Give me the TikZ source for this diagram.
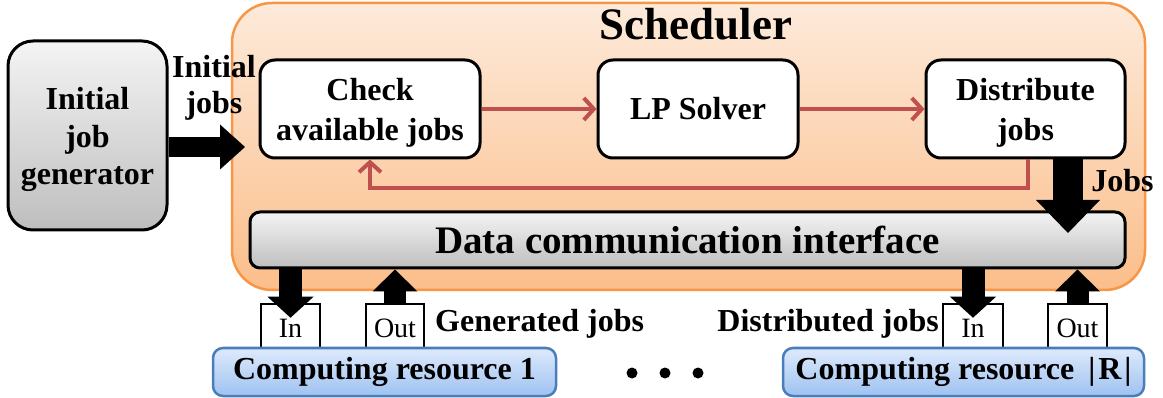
\documentclass[tikz,border=0pt]{standalone}
\usepackage{fontspec}
\setmainfont{Liberation Serif}
\usetikzlibrary{arrows.meta}
\definecolor{schedBorder}{RGB}{247,150,70}
\definecolor{schedTop}{RGB}{253,234,218}
\definecolor{schedBot}{RGB}{251,190,138}
\definecolor{grayTop}{RGB}{244,244,244}
\definecolor{grayBot}{RGB}{190,190,190}
\definecolor{blueTop}{RGB}{222,234,252}
\definecolor{blueBot}{RGB}{158,194,240}
\definecolor{blueBorder}{RGB}{74,126,187}
\definecolor{redLine}{RGB}{192,80,77}
\begin{document}
\begin{tikzpicture}[x=1pt,y=-1pt,
  bigfont/.style={font=\fontsize{32}{40}\selectfont\bfseries},
  whitebox/.style={draw=black, line width=3pt, rounded corners=15pt, fill=white,
    align=center, bigfont, inner sep=0pt},
  graybox/.style={draw=black, line width=3pt, top color=grayTop, bottom color=grayBot,
    align=center, bigfont, inner sep=0pt},
  portbox/.style={draw=black, line width=2.5pt, fill=white, inner sep=0pt,
    font=\fontsize{28}{32}\selectfont},
  resbox/.style={draw=blueBorder, line width=2.5pt, rounded corners=10pt,
    top color=blueTop, bottom color=blueBot, bigfont, inner sep=0pt},
  redarrow/.style={draw=redLine, line width=4pt, -{Straight Barb[length=10pt,width=22pt]}},
  fat/.style n args={3}{draw=black, line width=#1,
    -{Triangle[length=#3,width=#2,line width=0pt]}},
  lbl/.style={bigfont, inner sep=0pt},
  dotc/.style={circle, fill=black, inner sep=0pt, minimum size=11pt}
]
\useasboundingbox (0,0) rectangle (1163,398);

% Scheduler
\node[draw=schedBorder, line width=2.5pt, rounded corners=40pt,
      top color=schedTop, bottom color=schedBot,
      minimum width=913pt, minimum height=287pt, inner sep=0pt] (sched) at (688.5,146.5) {};
\node[font=\fontsize{45}{50}\selectfont\bfseries, anchor=base, inner sep=0pt] (schedlbl) at (696,40) {Scheduler};

% Initial job generator
\node[graybox, rounded corners=25pt, font=\fontsize{32}{37.5}\selectfont\bfseries,
      minimum width=159pt, minimum height=189pt] (gen) at (87.5,135.5)
  {\rule{0pt}{31pt}Initial\\job\\generator};

% Scheduler blocks
\node[whitebox, minimum width=220pt, minimum height=98pt] (check) at (370,109) {\rule{0pt}{29pt}Check\\available jobs};
\node[whitebox, minimum width=200pt, minimum height=98pt] (lp) at (698,109) {LP Solver};
\node[whitebox, minimum width=199pt, minimum height=98pt] (dist) at (1025.5,109) {\rule{0pt}{29pt}Distribute\\jobs};

% Data communication interface
\node[graybox, rounded corners=10pt, font=\fontsize{39}{44}\selectfont\bfseries,
      minimum width=875pt, minimum height=56pt] (dci) at (687.5,240) {Data communication interface};

% Ports
\node[portbox, minimum width=59pt, minimum height=48pt] (in1) at (290.5,328) {In};
\node[portbox, minimum width=58pt, minimum height=48pt] (out1) at (395,328) {Out};
\node[portbox, minimum width=60pt, minimum height=48pt] (inR) at (973,328) {In};
\node[portbox, minimum width=59pt, minimum height=48pt] (outR) at (1077.5,328) {Out};

% Computing resources
\node[resbox, minimum width=343pt, minimum height=48pt] (cr1) at (384.5,372) {Computing resource 1};
\node[resbox, minimum width=361pt, minimum height=48pt] (crR) at (963.5,372)
  {Computing resource\hspace{14pt}|\kern3pt R\kern3pt|};

% Dots
\node[dotc] (d1) at (632,373) {};
\node[dotc] (d2) at (665,373) {};
\node[dotc] (d3) at (698,373) {};

% Labels
\node[lbl, align=center, font=\fontsize{32}{36}\selectfont\bfseries] (initlbl) at (214,88) {Initial\\jobs};
\node[lbl, anchor=base] (jobslbl) at (1122.5,192) {Jobs};
\node[lbl, anchor=base west] (genlbl) at (435,331) {Generated jobs};
\node[lbl, anchor=base east] (distlbl) at (939,331) {Distributed jobs};

% Red arrows
\draw[redarrow] (check.east) -- (lp.west);
\draw[redarrow] (lp.east) -- (dist.west);
\draw[redarrow] ([xshift=2.5pt]dist.south) -- ++(0,29) -| (check.south);

% Fat black arrows
\coordinate (initTip) at (245,147);
\draw[fat={20pt}{45pt}{25pt}] ([yshift=-11.5pt]gen.east) -- (initTip);
\coordinate (jobsTip) at (1068,233);
\draw[fat={30pt}{64pt}{33pt}] ([xshift=42.5pt]dist.south) -- (jobsTip);
\draw[fat={23pt}{46pt}{21pt}] (in1.north |- dci.south) -- ([yshift=-15pt]in1.north);
\draw[fat={22pt}{45pt}{22pt}] (out1.north) -- (out1.north |- dci.south);
\draw[fat={23pt}{46pt}{21pt}] (inR.north |- dci.south) -- ([yshift=-15pt]inR.north);
\draw[fat={22pt}{45pt}{22pt}] (outR.north) -- (outR.north |- dci.south);
\end{tikzpicture}
\end{document}
